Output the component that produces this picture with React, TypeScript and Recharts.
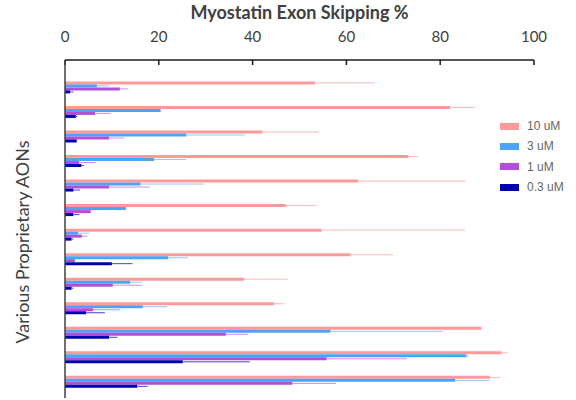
import { BarChart, Bar, XAxis, YAxis, ErrorBar, Legend } from 'recharts';

const aons = ['AON 1', 'AON 2', 'AON 3', 'AON 4', 'AON 5', 'AON 6', 'AON 7', 'AON 8', 'AON 9', 'AON 10', 'AON 11', 'AON 12', 'AON 13'];

// exon skipping % at each dose, plus upper error (sd)
const dose10 = [53.3, 82.1, 42.1, 73.2, 62.5, 47.1, 54.7, 60.9, 38.2, 44.6, 88.8, 93.1, 90.6];
const sd10 = [12.8, 5.3, 12.1, 2.1, 23.1, 6.6, 30.6, 9.1, 9.3, 2.2, 0, 1.4, 2.2];
const dose3 = [6.8, 20.4, 25.9, 19.0, 16.1, 13.0, 2.8, 22.0, 13.9, 16.6, 56.6, 85.6, 83.2];
const sd3 = [2.6, 0, 12.5, 6.8, 13.5, 0, 2.4, 4.2, 2.4, 5.2, 23.9, 0.4, 7.4];
const dose1 = [11.7, 6.4, 9.4, 3.0, 9.4, 5.5, 3.6, 2.1, 10.2, 6.0, 34.3, 55.8, 48.5];
const sd1 = [1.8, 3.3, 3.2, 3.5, 8.7, 0, 1.2, 0, 6.3, 5.7, 4.8, 17.1, 9.3];
const dose03 = [1.1, 2.3, 2.5, 3.5, 1.8, 1.8, 1.4, 10.0, 1.4, 4.5, 9.4, 25.1, 15.4];
const sd03 = [0.7, 0.3, 0, 0.5, 1.4, 1.3, 0.4, 4.4, 0.4, 4.0, 1.8, 14.3, 2.2];

const xTicks = [0, 20, 40, 60, 80, 100];

const series = [
  { key: 'd10', name: '10 uM', fill: '#FF9A9A', err: '#FFB8B8' },
  { key: 'd3', name: '3 uM', fill: '#4FA3F7', err: '#93C6F9' },
  { key: 'd1', name: '1 uM', fill: '#B14FDB', err: '#CC8DE8' },
  { key: 'd03', name: '0.3 uM', fill: '#0000AE', err: '#4545C8' },
];

const data = aons.map((name, i) => ({
  name,
  d10: dose10[i],
  e10: [0, sd10[i]],
  d3: dose3[i],
  e3: [0, sd3[i]],
  d1: dose1[i],
  e1: [0, sd1[i]],
  d03: dose03[i],
  e03: [0, sd03[i]],
}));

const errKey: Record<string, string> = { d10: 'e10', d3: 'e3', d1: 'e1', d03: 'e03' };

function LegendBox() {
  return (
    <div style={{ fontFamily: '"Liberation Sans", Arial, sans-serif', fontSize: 12, color: '#666' }}>
      {series.map((s) => (
        <div key={s.key} style={{ display: 'flex', alignItems: 'center', height: 20.3 }}>
          <span style={{ display: 'inline-block', width: 19, height: 7, background: s.fill, marginRight: 8 }} />
          <span>{s.name}</span>
        </div>
      ))}
    </div>
  );
}

function YTitle(props: any) {
  const vb = props.viewBox || {};
  const cx = vb.x + 22;
  const cy = vb.y + vb.height / 2 + 13;
  return (
    <text
      x={cx}
      y={cy}
      transform={`rotate(-90, ${cx}, ${cy})`}
      textAnchor='middle'
      dominantBaseline='central'
      fill='#404040'
      fontSize={18}
      fontFamily='Lato, sans-serif'
    >
      Various Proprietary AONs
    </text>
  );
}

export default function App() {
  return (
    <div style={{ position: 'absolute', left: 0, top: 0, background: '#fff' }}>
      <BarChart
        width={576}
        height={400}
        data={data}
        layout='vertical'
        margin={{ top: 0, right: 42, bottom: 2, left: 0 }}
        barCategoryGap='22%'
        barGap={0}
      >
        <XAxis
          type='number'
          orientation='top'
          domain={[0, 100]}
          ticks={xTicks}
          height={60}
          tickSize={-5}
          tickMargin={23}
          axisLine={{ stroke: '#1a1a1a', strokeWidth: 1.5 }}
          tickLine={{ stroke: '#1a1a1a', strokeWidth: 1.5 }}
          tick={{ fill: '#404040', fontSize: 15, fontFamily: 'Lato, sans-serif' }}
          label={{
            value: 'Myostatin Exon Skipping %',
            position: 'insideTop',
            offset: 6,
            fill: '#404040',
            fontSize: 18,
            fontWeight: 'bold',
            fontFamily: 'Lato, sans-serif',
          }}
        />
        <YAxis
          type='category'
          dataKey='name'
          width={65}
          tick={false}
          tickSize={4}
          padding={{ top: 16, bottom: 3 }}
          axisLine={{ stroke: '#404040', strokeWidth: 1.5 }}
          tickLine={{ stroke: '#404040' }}
          label={<YTitle />}
        />
        <Legend
          layout='vertical'
          align='center'
          verticalAlign='middle'
          content={<LegendBox />}
          wrapperStyle={{ left: 500, top: 116, width: 80 }}
        />
        {series.map((s) => (
          <Bar key={s.key} dataKey={s.key} name={s.name} fill={s.fill} isAnimationActive={false}>
            <ErrorBar dataKey={errKey[s.key]} direction='x' width={0} stroke={s.err} strokeWidth={1} />
          </Bar>
        ))}
      </BarChart>
    </div>
  );
}
